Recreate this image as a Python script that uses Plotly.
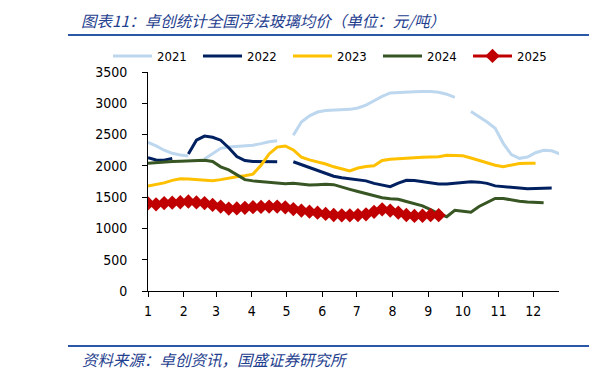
import pandas as pd
import plotly.graph_objects as go

months = ["1", "2", "3", "4", "5", "6", "7", "8", "9", "10", "11", "12"]
series_names = ["2021", "2022", "2023", "2024", "2025"]

# weekly average float glass price (yuan/ton); None = no data that week
v2021 = [2376, 2320, 2250, 2200, 2175, 2157, None, 2110, 2200, 2280, 2300, 2310,
         2317, 2330, 2355, 2385, 2400, None, 2490, 2700, 2800, 2860, 2885, 2890,
         2895, 2903, 2925, 2970, 3040, 3110, 3165, 3175, 3180, 3185, 3190, 3190,
         3175, 3145, 3095, None, 2870, 2790, 2700, 2600, 2360, 2180, 2120, 2140,
         2210, 2250, 2240, 2190]
v2022 = [2130, 2095, 2090, 2120, None, 2190, 2410, 2475, 2456, 2410, 2290, 2150,
         2085, 2070, 2066, 2066, 2066, None, 2066, 2020, 1975, 1920, 1880, 1835,
         1810, 1795, 1775, 1760, 1720, 1690, 1667, 1725, 1770, 1765, 1745, 1721,
         1712, 1710, 1725, 1742, 1747, 1740, 1720, 1680, 1665, 1655, 1645, 1635,
         1638, 1643, 1646]
v2023 = [1678, 1705, 1728, 1768, 1793, 1790, 1780, 1772, 1763, 1780, 1805, 1825,
         1842, 1868, 2010, 2190, 2300, 2317, 2255, 2140, 2095, 2065, 2030, 1985,
         1950, 1920, 1965, 1990, 2000, 2085, 2105, 2110, 2114, 2130, 2138, 2140,
         2145, 2168, 2165, 2160, 2125, 2085, 2050, 2010, 1988, 2012, 2038, 2040,
         2040]
v2024 = [2040, 2052, 2062, 2070, 2074, 2077, 2085, 2090, 2070, 1985, 1935, 1860,
         1780, 1760, 1750, 1738, 1725, 1715, 1721, 1708, 1695, 1700, 1706, 1700,
         1668, 1625, 1590, 1553, 1515, 1490, 1475, 1467, 1430, 1390, 1360, 1300,
         1235, 1187, 1290, 1275, 1260, 1350, 1420, 1478, 1478, 1455, 1435, 1422,
         1415, 1411]
v2025 = [1400, 1385, 1405, 1412, 1418, 1430, 1415, 1405, 1375, 1350, 1318, 1320,
         1330, 1340, 1345, 1350, 1350, 1338, 1310, 1285, 1268, 1252, 1232, 1215,
         1210, 1210, 1213, 1225, 1265, 1305, 1285, 1252, 1215, 1200, 1203, 1212,
         1212]

values = [v2021, v2022, v2023, v2024, v2025]
colors = ["#BDD7EE", "#002060", "#FFC000", "#375623", "#C00000"]

# the page body has an 8px margin: work in reference pixels, shift by OFF
OFF = 8
W, H = 605 - OFF, 375 - OFF
L, R, T, B = 148 - OFF, 559 - OFF, 72 - OFF, 291 - OFF


def xp(px):
    return (px - OFF - L) / (R - L)


def yp(py):
    return (B - (py - OFF)) / (B - T)


fig = go.Figure()
for name, vals, col in zip(series_names, values, colors):
    dates = pd.date_range("2021-01-01", periods=len(vals), freq="7D")
    if name == "2025":
        kw = dict(mode="lines+markers",
                  marker=dict(symbol="diamond", size=11, color=col))
    else:
        kw = dict(mode="lines")
    fig.add_trace(go.Scatter(x=dates, y=vals, name=name,
                             line=dict(color=col, width=3),
                             connectgaps=False, **kw))

tickvals = [f"2021-{m:02d}-01" for m in range(1, 13)]

fig.update_layout(
    width=W, height=H,
    margin=dict(l=L, r=W - R, t=T, b=H - B, pad=0),
    paper_bgcolor="white", plot_bgcolor="white",
    font=dict(family="DejaVu Sans Condensed, DejaVu Sans", size=14, color="black"),
    showlegend=True,
    legend=dict(orientation="h", x=xp(108), y=yp(56), xanchor="left", yanchor="middle",
                entrywidth=36, entrywidthmode="pixels", itemwidth=39,
                font=dict(size=13), bgcolor="rgba(0,0,0,0)", tracegroupgap=0),
    xaxis=dict(type="date", range=["2021-01-01", "2021-12-23 08:00"],
               tickvals=tickvals, ticktext=months, tickangle=0,
               showgrid=False, zeroline=False,
               showline=True, linecolor="black", linewidth=1,
               ticks="outside", ticklen=5, tickcolor="black",
               ticklabelstandoff=2),
    yaxis=dict(range=[0, 3500], dtick=500, tickformat="d",
               showgrid=False, zeroline=False,
               showline=True, linecolor="black", linewidth=1,
               ticks="outside", ticklen=5, tickcolor="black",
               ticklabelstandoff=12),
)

blue_line = "#2B58A6"
for py in (35, 346):
    fig.add_shape(type="line", xref="paper", yref="paper",
                  x0=xp(68), x1=xp(589), y0=yp(py), y1=yp(py),
                  line=dict(color=blue_line, width=2))
    fig.add_shape(type="line", xref="paper", yref="paper",
                  x0=xp(602), x1=xp(606), y0=yp(py), y1=yp(py),
                  line=dict(color=blue_line, width=2))

fig.add_annotation(text="<i>图表11：卓创统计全国浮法玻璃均价（单位：元/吨）</i>",
                   xref="paper", yref="paper", x=xp(80), y=yp(OFF),
                   xanchor="left", yanchor="top", showarrow=False, borderpad=0,
                   font=dict(family="Noto Sans CJK SC", size=15.5, color="#1F3F8F"))
fig.add_annotation(text="<i>资料来源：卓创资讯，国盛证券研究所</i>",
                   xref="paper", yref="paper", x=xp(80), y=yp(359),
                   xanchor="left", yanchor="middle", showarrow=False,
                   font=dict(family="Noto Sans CJK SC", size=15.5, color="#1F3F8F"))

fig.write_html("out.html")
